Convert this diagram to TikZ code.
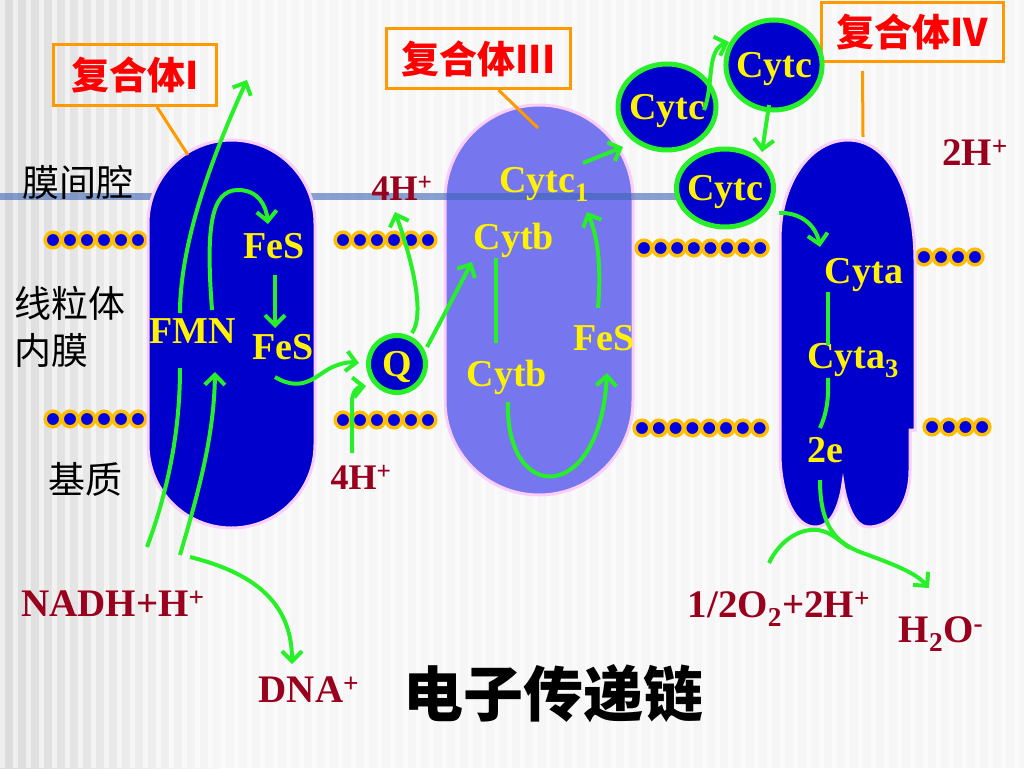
\documentclass[tikz,border=0pt]{standalone}
\usepackage{fontspec}
\setmainfont{Liberation Serif}
\newfontfamily\cjk{Noto Sans CJK SC}
\usetikzlibrary{calc,shapes.geometric,arrows.meta}

\definecolor{cxblue}{RGB}{0,0,204}
\definecolor{cxlight}{RGB}{118,118,238}
\definecolor{rim}{RGB}{250,205,250}
\definecolor{flowgreen}{RGB}{40,240,40}
\definecolor{ionred}{RGB}{153,0,30}
\definecolor{tagorange}{RGB}{255,153,0}
\definecolor{beadgold}{RGB}{255,190,0}
\definecolor{beadblue}{RGB}{0,0,225}
\definecolor{memline}{RGB}{60,100,180}

\tikzset{
  chem/.style={font=\fontsize{38}{40}\selectfont\bfseries, text=yellow, inner sep=0pt,
    text height=25pt, text depth=0pt},
  ion/.style={font=\fontsize{39}{40}\selectfont\bfseries, text=ionred, inner sep=0pt,
    text height=26pt, text depth=0pt},
  zone/.style={font=\cjk\fontsize{37}{47}\selectfont, inner sep=0pt, align=left},
  tag/.style={draw=tagorange, line width=3pt, text=red, inner sep=0pt,
    font=\cjk\bfseries\fontsize{38}{40}\selectfont},
  carrier/.style={chem, ellipse, draw=flowgreen, line width=5pt, fill=cxblue,
    inner xsep=-4pt, inner ysep=0pt},
  flow/.style={flowgreen, line width=4pt, -{Straight Barb[length=10pt,width=20pt]}},
  link/.style={flowgreen, line width=4pt},
  bead/.style={fill=beadblue, draw=beadgold, line width=3.5pt},
  complex/.style={fill=cxblue, draw=rim, line width=3pt},
  pointer/.style={tagorange, line width=3pt},
}

\begin{document}
\begin{tikzpicture}[x=1pt,y=-1pt]
  \useasboundingbox (0,0) rectangle (1024,768);
  % backdrop
  \fill[gray!7] (0,0) rectangle (1024,768);
  \shade[left color=gray!28, right color=gray!7] (0,0) rectangle (220,768);
  \foreach \x in {0,13,...,1020} {\fill[white,opacity=.55] (\x,0) rectangle ++(5,768);}

  % complex III and the membrane
  \draw[complex, fill=cxlight, rounded corners=94pt] (445,105) rectangle (633,495);
  \draw[memline, line width=7pt, opacity=.6] (0,196) -- (700,196);

  % lipid beads
  \foreach \x/\y/\n/\d in {53/240/6/17, 343/240/6/17, 644/248/8/16.6, 924/257/4/17,
                           53/419/6/17, 343/420/6/17, 642/428/8/16.8, 932/427/4/16.7}
    {\foreach \i in {1,...,\n} {\filldraw[bead] ({\x+\d*(\i-1)},\y) circle (7.8);}}

  % complex I and IV
  \draw[complex, rounded corners=83.5pt] (148,140) rectangle (315,528);
  \draw[complex] (780,453) -- (780,240) .. controls (780,180) and (812,140) .. (848,140)
    .. controls (888,140) and (915,190) .. (915,262) -- (915,430) -- (910,430) -- (910,470)
    .. controls (910,505) and (892,527) .. (868,527) .. controls (855,527) and (846,505) .. (843,483)
    .. controls (840,505) and (832,527) .. (815,527) .. controls (795,527) and (780,495) .. (780,453)
    -- cycle;

  % labels of the complexes
  \node[tag, minimum width=163pt, minimum height=61pt] (tagOne) at (135,75) {复合体I};
  \node[tag, minimum width=184pt, minimum height=60pt] (tagThree) at (478.5,58.5) {复合体III};
  \node[tag, minimum width=182pt, minimum height=59pt] (tagFour) at (912.5,32) {复合体IV};
  \coordinate (tipOne) at (188,155);
  \coordinate (tipThree) at (538,128);
  \coordinate (tipFour) at (863,137);
  \draw[pointer] ($(tagOne.south)+(22,0)$) -- (tipOne);
  \draw[pointer] ($(tagThree.south)+(20,0)$) -- (tipThree);
  \draw[pointer] ($(tagFour.south)+(-50,8)$) -- (tipFour);

  % regions
  \node[zone] (gap) at (78,182) {膜间腔};
  \node[zone] (inner) at (70,327) {线粒体\\内膜};
  \node[zone] (base) at (85,479) {基质};

  % carriers
  \node[chem] (fmn) at (193,331) {FMN};
  \node[chem] (fesA) at (274,246) {FeS};
  \node[chem] (fesB) at (283,347) {FeS};
  \node[carrier, minimum size=57pt] (q) at (397,364) {Q};
  \node[chem] (cytcOne) at (544,180) {Cytc\textsubscript{1}};
  \node[chem] (cytbA) at (514,237) {Cytb};
  \node[chem] (cytbB) at (507,374) {Cytb};
  \node[chem] (fesC) at (604,338) {FeS};
  \node[carrier, minimum width=98pt, minimum height=86pt] (cytcA) at (667,107) {Cytc};
  \node[carrier, minimum width=88pt, minimum height=90pt] (cytcB) at (774,65) {Cytc};
  \node[carrier, minimum width=97pt, minimum height=78pt] (cytcC) at (725,188) {Cytc};
  \node[chem] (cyta) at (864,271) {Cyta};
  \node[chem] (cytaThree) at (853,356) {Cyta\textsubscript{3}};
  \node[chem] (twoE) at (825,450) {2e};

  % protons and substrates
  \node[ion, font=\fontsize{36}{40}\selectfont\bfseries] (hUp) at (402,187) {4H\textsuperscript{+}};
  \node[ion, font=\fontsize{36}{40}\selectfont\bfseries] (hLow) at (361,476) {4H\textsuperscript{+}};
  \node[ion] (hTwo) at (975,152) {2H\textsuperscript{+}};
  \node[ion] (nadh) at (113,603) {NADH+H\textsuperscript{+}};
  \node[ion] (dna) at (309,689) {DNA\textsuperscript{+}};
  \node[ion] (oxy) at (779,604) {1/2O\textsubscript{2}+2H\textsuperscript{+}};
  \node[ion] (water) at (941,629) {H\textsubscript{2}O\textsuperscript{-}};
  \node[font=\cjk\bfseries\fontsize{60}{60}\selectfont, inner sep=0pt] (title) at (553,694) {电子传递链};

  % electron flow
  \coordinate (outOne) at (247,80);
  \coordinate (merge) at (850,548);
  \draw[link] ($(nadh)+(34,-56)$) .. controls (172,480) and (180,420) .. ($(fmn)+(-13,37)$);
  \draw[flow] ($(fmn)+(-13,-18)$) .. controls (180,240) and (215,150) .. (outOne);
  \draw[flow] ($(nadh)+(67,-48)$) .. controls (196,500) and (214,440) .. ($(fmn)+(22,41)$);
  \draw[flow] ($(nadh)+(77,-46)$) .. controls (250,572) and (292,600) .. ($(dna)+(-17,-25)$);
  \draw[flow] ($(fmn)+(19,-21)$) .. controls (206,230) and (210,190) .. (238,190)
    .. controls (258,190) and (266,205) .. ($(fesA)+(-6,-22)$);
  \draw[flow] ($(fesA)+(1,29)$) -- ($(fesB)+(-8,-19)$);
  \draw[flow] ($(fesB)+(-8,30)$) .. controls (305,395) and (318,372) .. (335,366)
    .. controls (345,362) and (352,362) .. ($(q)+(-38,-1)$);
  \draw[flow] ($(hLow)+(-9,-23)$) -- (352,402) .. controls (352,392) and (357,387) .. ($(q)+(-31,22)$);
  \draw[flow] ($(q)+(15,-31)$) .. controls (428,310) and (405,240) .. ($(hUp)+(-7,25)$);
  \draw[flow] ($(q)+(30,-17)$) -- ($(cytbA)+(-42,25)$);
  \draw[link] ($(cytbB)+(-11,-31)$) -- ($(cytbA)+(-18,21)$);
  \draw[flow] ($(cytbB)+(1,28)$) .. controls (505,505) and (600,505) .. ($(fesC)+(3,35)$);
  \draw[flow] ($(fesC)+(-6,-30)$) .. controls (602,260) and (596,232) .. ($(cytcOne)+(43,32)$);
  \draw[flow] ($(cytcOne)+(39,-17)$) -- ($(cytcA)+(-44,40)$);
  \draw[flow] ($(cytcA)+(37,3)$) .. controls (714,85) and (706,50) .. ($(cytcB)+(-45,-23)$);
  \draw[flow] ($(cytcB)+(-5,40)$) -- ($(cytcC)+(37,-36)$);
  \draw[flow] ($(cytcC)+(54,25)$) .. controls (800,212) and (816,225) .. ($(cyta)+(-44,-24)$);
  \draw[link] ($(cyta)+(-36,21)$) -- ($(cytaThree)+(-25,-11)$);
  \draw[link] ($(cytaThree)+(-25,22)$) .. controls (829,400) and (826,415) .. ($(twoE)+(-5,-22)$);
  \draw[flow] ($(twoE)+(-5,30)$) .. controls (820,525) and (835,542) .. (860,552)
    .. controls (890,563) and (915,572) .. ($(water)+(-12,-41)$);
  \draw[link] ($(oxy)+(-10,-41)$) .. controls (780,540) and (800,528) .. (818,530)
    .. controls (832,532) and (840,542) .. (merge);
\end{tikzpicture}
\end{document}
